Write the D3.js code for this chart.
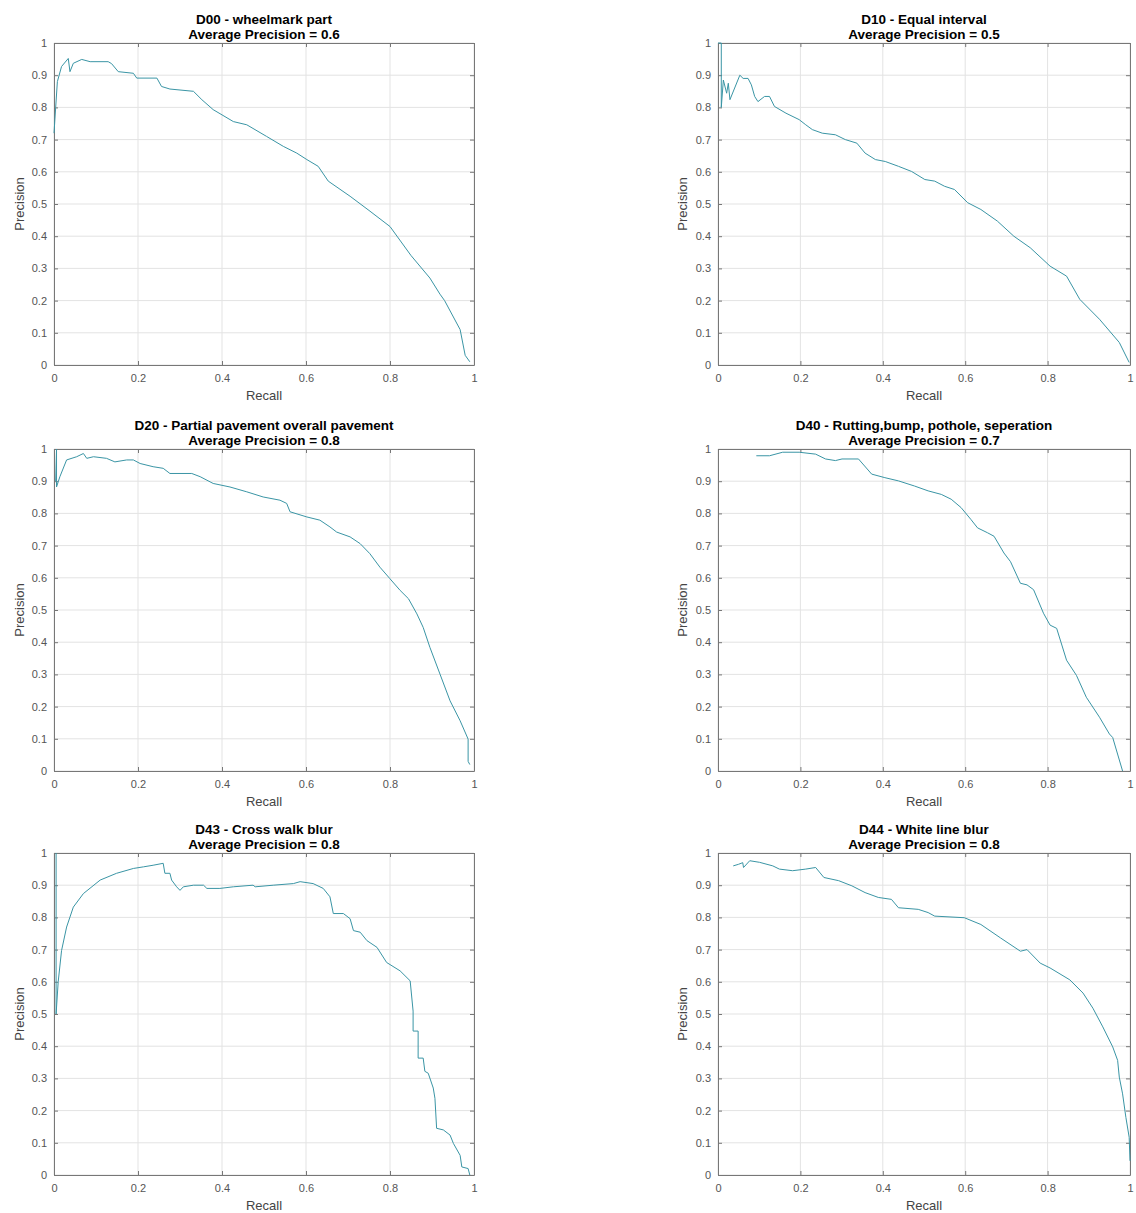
<!DOCTYPE html>
<html>
  <head>
    <script src="https://d3js.org/d3.v7.min.js" charset="utf-8"></script>
    <meta charset="UTF-8">
    <title>precision recall curves</title>
    <style>
      body { margin: 0; background: #fff; }
      .chart text { font-family: "Liberation Sans", Arial, sans-serif; }
    </style>
  </head>
  <body>
    <svg class="chart"></svg>
    <script type="text/javascript">

     var width = 1136,
         height = 1213;

     // panel titles and average precision
     var titles = ["D00 - wheelmark part", "D10 - Equal interval",
                   "D20 - Partial pavement overall pavement", "D40 - Rutting,bump, pothole, seperation",
                   "D43 - Cross walk blur", "D44 - White line blur"];
     var avgPrecision = [0.6, 0.5, 0.8, 0.7, 0.8, 0.8];

     var xTicks = [0, 0.2, 0.4, 0.6, 0.8, 1];
     var yTicks = [0, 0.1, 0.2, 0.3, 0.4, 0.5, 0.6, 0.7, 0.8, 0.9, 1];

     // curves
     var d00Recall = [0, 0.004, 0.008, 0.018, 0.034, 0.038, 0.046, 0.066, 0.086, 0.129, 0.137, 0.153, 0.189, 0.197, 0.245, 0.256, 0.276, 0.332, 0.352, 0.379, 0.427, 0.459, 0.506, 0.546, 0.578, 0.602, 0.629, 0.653, 0.705, 0.75, 0.8, 0.85, 0.895, 0.919, 0.93, 0.967, 0.979, 0.99];
     var d00Precision = [0.72, 0.8, 0.88, 0.927, 0.952, 0.911, 0.937, 0.949, 0.942, 0.942, 0.936, 0.911, 0.906, 0.891, 0.891, 0.865, 0.857, 0.85, 0.824, 0.793, 0.756, 0.746, 0.71, 0.679, 0.658, 0.638, 0.617, 0.571, 0.524, 0.48, 0.43, 0.34, 0.27, 0.22, 0.2, 0.11, 0.03, 0.01];

     var d10Recall = [0, 0.008, 0.008, 0.013, 0.021, 0.025, 0.029, 0.053, 0.061, 0.073, 0.081, 0.089, 0.097, 0.113, 0.125, 0.137, 0.165, 0.197, 0.213, 0.229, 0.253, 0.285, 0.309, 0.337, 0.357, 0.382, 0.406, 0.438, 0.47, 0.502, 0.526, 0.55, 0.574, 0.606, 0.638, 0.678, 0.718, 0.758, 0.806, 0.846, 0.878, 0.926, 0.974, 0.998];
     var d10Precision = [1, 1, 0.8, 0.885, 0.844, 0.875, 0.824, 0.9, 0.89, 0.89, 0.87, 0.834, 0.818, 0.834, 0.834, 0.803, 0.782, 0.762, 0.746, 0.731, 0.72, 0.715, 0.7, 0.689, 0.658, 0.638, 0.632, 0.617, 0.601, 0.576, 0.571, 0.555, 0.545, 0.504, 0.483, 0.447, 0.4, 0.364, 0.307, 0.276, 0.204, 0.142, 0.07, 0.008];

     var d20Recall = [0.004, 0.006, 0.006, 0.014, 0.03, 0.054, 0.07, 0.078, 0.094, 0.125, 0.145, 0.173, 0.189, 0.205, 0.236, 0.26, 0.276, 0.328, 0.348, 0.379, 0.419, 0.459, 0.498, 0.538, 0.554, 0.562, 0.602, 0.633, 0.657, 0.673, 0.705, 0.729, 0.752, 0.776, 0.8, 0.824, 0.844, 0.864, 0.879, 0.895, 0.919, 0.943, 0.967, 0.986, 0.986, 0.99];
     var d20Precision = [0.9, 1, 0.882, 0.914, 0.966, 0.976, 0.986, 0.971, 0.976, 0.971, 0.96, 0.966, 0.966, 0.955, 0.945, 0.94, 0.924, 0.924, 0.914, 0.893, 0.882, 0.867, 0.851, 0.841, 0.831, 0.805, 0.789, 0.779, 0.758, 0.742, 0.727, 0.706, 0.675, 0.633, 0.597, 0.561, 0.535, 0.488, 0.446, 0.384, 0.301, 0.218, 0.156, 0.099, 0.03, 0.02];

     var d40Recall = [0.093, 0.125, 0.157, 0.197, 0.237, 0.261, 0.285, 0.301, 0.341, 0.373, 0.405, 0.438, 0.477, 0.51, 0.542, 0.566, 0.59, 0.614, 0.63, 0.654, 0.67, 0.694, 0.71, 0.734, 0.75, 0.766, 0.79, 0.806, 0.822, 0.846, 0.87, 0.894, 0.926, 0.95, 0.958, 0.982];
     var d40Precision = [0.979, 0.979, 0.99, 0.99, 0.984, 0.969, 0.964, 0.969, 0.969, 0.922, 0.911, 0.901, 0.885, 0.87, 0.859, 0.844, 0.818, 0.781, 0.755, 0.74, 0.729, 0.677, 0.65, 0.583, 0.578, 0.563, 0.49, 0.453, 0.443, 0.344, 0.297, 0.229, 0.167, 0.115, 0.104, 0];

     var d43Recall = [0.005, 0.005, 0.01, 0.018, 0.03, 0.046, 0.07, 0.11, 0.149, 0.189, 0.213, 0.236, 0.26, 0.264, 0.276, 0.28, 0.292, 0.3, 0.308, 0.332, 0.356, 0.364, 0.395, 0.427, 0.474, 0.479, 0.522, 0.57, 0.586, 0.617, 0.641, 0.657, 0.665, 0.689, 0.705, 0.713, 0.729, 0.745, 0.769, 0.792, 0.824, 0.848, 0.855, 0.855, 0.867, 0.867, 0.879, 0.883, 0.891, 0.903, 0.907, 0.911, 0.927, 0.943, 0.951, 0.967, 0.971, 0.986, 0.99];
     var d43Precision = [1, 0.5, 0.6, 0.697, 0.77, 0.832, 0.874, 0.916, 0.937, 0.952, 0.957, 0.962, 0.968, 0.937, 0.937, 0.916, 0.895, 0.884, 0.895, 0.9, 0.9, 0.89, 0.89, 0.895, 0.9, 0.895, 0.9, 0.905, 0.911, 0.905, 0.89, 0.864, 0.812, 0.812, 0.796, 0.759, 0.754, 0.728, 0.707, 0.66, 0.634, 0.603, 0.509, 0.447, 0.447, 0.363, 0.363, 0.322, 0.316, 0.27, 0.238, 0.145, 0.14, 0.124, 0.098, 0.061, 0.025, 0.02, 0];

     var d44Recall = [0.037, 0.05, 0.06, 0.062, 0.077, 0.101, 0.133, 0.149, 0.181, 0.213, 0.237, 0.257, 0.293, 0.325, 0.357, 0.389, 0.421, 0.438, 0.486, 0.51, 0.526, 0.598, 0.638, 0.686, 0.734, 0.75, 0.782, 0.806, 0.854, 0.886, 0.91, 0.934, 0.958, 0.97, 0.974, 0.982, 0.99, 0.998, 1];
     var d44Precision = [0.96, 0.965, 0.97, 0.955, 0.976, 0.971, 0.96, 0.95, 0.945, 0.95, 0.955, 0.924, 0.914, 0.898, 0.877, 0.862, 0.856, 0.83, 0.825, 0.815, 0.804, 0.799, 0.778, 0.736, 0.695, 0.7, 0.658, 0.643, 0.606, 0.565, 0.518, 0.46, 0.398, 0.356, 0.304, 0.252, 0.179, 0.117, 0.044];

     var recalls = [d00Recall, d10Recall, d20Recall, d40Recall, d43Recall, d44Recall];
     var precisions = [d00Precision, d10Precision, d20Precision, d40Precision, d43Precision, d44Precision];

     // layout of the 3x2 grid of axes
     var colLeft = [54, 718],
         colWidth = [420, 412],
         rowTop = [43, 449, 853],
         plotHeight = 322,
         tickLen = 4;

     var chart = d3.select(".chart")
                   .attr("width", width)
                   .attr("height", height);

     titles.forEach(function(title, i) {
         var col = i % 2,
             row = Math.floor(i / 2),
             w = colWidth[col];

         var g = chart.append("g")
                      .attr("transform", "translate(" + colLeft[col] + "," + rowTop[row] + ")");

         var x = d3.scaleLinear().domain([0, 1]).range([0, w]);
         var y = d3.scaleLinear().domain([0, 1]).range([plotHeight, 0]);

         g.append("rect")
          .attr("width", w).attr("height", plotHeight)
          .attr("fill", "#fff");

         // grid
         g.append("g").selectAll("line").data(xTicks).enter().append("line")
          .attr("x1", function(d) { return x(d); }).attr("x2", function(d) { return x(d); })
          .attr("y1", 0).attr("y2", plotHeight)
          .attr("stroke", "#e3e3e3");
         g.append("g").selectAll("line").data(yTicks).enter().append("line")
          .attr("y1", function(d) { return y(d); }).attr("y2", function(d) { return y(d); })
          .attr("x1", 0).attr("x2", w)
          .attr("stroke", "#e3e3e3");

         // axes with inward ticks on all sides
         var fmt = function(d) { return d3.format("")(+d.toFixed(1)); };
         g.append("g").attr("transform", "translate(0," + plotHeight + ")")
          .call(d3.axisBottom(x).tickValues(xTicks).tickSizeInner(-tickLen).tickSizeOuter(0).tickPadding(9).tickFormat(fmt));
         g.append("g")
          .call(d3.axisLeft(y).tickValues(yTicks).tickSizeInner(-tickLen).tickSizeOuter(0).tickPadding(7).tickFormat(fmt));
         g.append("g")
          .call(d3.axisTop(x).tickValues(xTicks).tickSizeInner(-tickLen).tickSizeOuter(0).tickFormat(""));
         g.append("g").attr("transform", "translate(" + w + ",0)")
          .call(d3.axisRight(y).tickValues(yTicks).tickSizeInner(-tickLen).tickSizeOuter(0).tickFormat(""));

         g.selectAll(".domain").attr("stroke", "#777");
         g.selectAll(".tick line").attr("stroke", "#777");
         g.selectAll(".tick text").attr("fill", "#555").style("font-size", "11px");

         // curve
         var pts = d3.zip(recalls[i], precisions[i]);
         g.append("path")
          .datum(pts)
          .attr("fill", "none")
          .attr("stroke", "#3a95a5")
          .attr("stroke-width", 1)
          .attr("d", d3.line().x(function(d) { return x(d[0]); }).y(function(d) { return y(d[1]); }));

         // labels
         g.append("text")
          .attr("x", w / 2).attr("y", plotHeight + 35)
          .attr("text-anchor", "middle")
          .attr("fill", "#444")
          .style("font-size", "13px")
          .text("Recall");
         g.append("text")
          .attr("transform", "translate(" + (col === 0 ? -30 : -31) + "," + (plotHeight / 2) + ") rotate(-90)")
          .attr("text-anchor", "middle")
          .attr("fill", "#444")
          .style("font-size", "13px")
          .text("Precision");

         g.append("text")
          .attr("x", w / 2).attr("y", -19)
          .attr("text-anchor", "middle")
          .style("font-size", "13.5px").style("font-weight", "bold")
          .text(title);
         g.append("text")
          .attr("x", w / 2).attr("y", -4)
          .attr("text-anchor", "middle")
          .style("font-size", "13.5px").style("font-weight", "bold")
          .text("Average Precision = " + avgPrecision[i]);
     });

    </script>
  </body>
</html>
